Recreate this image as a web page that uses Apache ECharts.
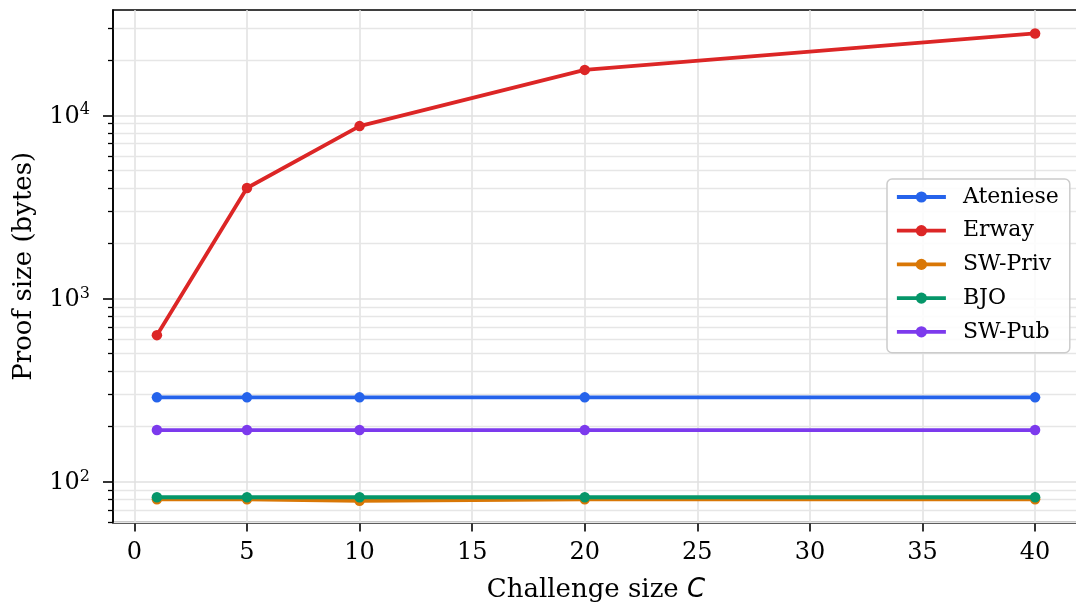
<!DOCTYPE html>
<html>
<head>
<meta charset="utf-8">
<script src="https://cdn.jsdelivr.net/npm/echarts@6/dist/echarts.min.js"></script>
<style>
html,body{margin:0;padding:0;background:#fff;}
#chart{width:1076px;height:607px;}
</style>
</head>
<body>
<div id="chart"></div>
<script>
// ---- data ----
const challengeSizes = [1, 5, 10, 20, 40];
const ateniese = [288, 288, 288, 288, 288];
const erway = [630, 4010, 8730, 17700, 28000];
const swPriv = [80, 80, 78.5, 80, 80];
const bjo = [82, 82, 82, 82, 82];
const swPub = [191, 191, 191, 191, 191];
const seriesNames = ['Ateniese', 'Erway', 'SW-Priv', 'BJO', 'SW-Pub'];
const seriesColors = ['#2563eb', '#dc2626', '#d97706', '#059669', '#7c3aed'];
const xTicks = [0, 5, 10, 15, 20, 25, 30, 35, 40];
const yMajorTicks = [100, 1000, 10000];
const yMinorTicks = [60, 70, 80, 90, 200, 300, 400, 500, 600, 700, 800, 900,
  2000, 3000, 4000, 5000, 6000, 7000, 8000, 9000, 20000, 30000];

const allValues = [ateniese, erway, swPriv, bjo, swPub];
const FONT = 'DejaVu Serif';

function pairs(vals) { return challengeSizes.map((x, i) => [x, vals[i]]); }

const series = allValues.map((vals, i) => ({
  name: seriesNames[i],
  type: 'line',
  data: pairs(vals),
  symbol: 'circle',
  symbolSize: 10.5,
  showSymbol: true,
  lineStyle: { width: 3.8, color: seriesColors[i] },
  itemStyle: { color: seriesColors[i], borderWidth: 0 },
  emphasis: { disabled: true },
  animation: false,
  z: 3 + i
}));

const yMin = 59.7, yMax = 37600;

const option = {
  animation: false,
  grid: {
    left: 113, top: 10, right: -3, bottom: 84.5,
    show: true, borderColor: '#000', borderWidth: 1.6, backgroundColor: 'transparent',
    containLabel: false,
    outerBoundsMode: 'none'
  },
  legend: {
    orient: 'vertical',
    left: 887, top: 179,
    data: seriesNames,
    itemWidth: 49, itemHeight: 14, itemGap: 11.7,
    padding: [7, 11, 10, 8],
    backgroundColor: 'rgba(255,255,255,0.85)',
    borderColor: '#cccccc', borderWidth: 1.5, borderRadius: 5,
    lineStyle: { width: 3.8 },
    textStyle: { fontFamily: FONT, fontSize: 22, color: '#000', lineHeight: 22, padding: [0, 0, 0, 12] },
    selectedMode: false
  },
  xAxis: {
    type: 'value',
    min: -0.95, max: 41.95,
    name: '{a|Challenge size }{i|C}',
    nameLocation: 'middle',
    nameGap: 55,
    nameTextStyle: {
      rich: {
        a: { fontFamily: FONT, fontSize: 26, color: '#000' },
        i: { fontFamily: 'DejaVu Sans', fontStyle: 'italic', fontSize: 26, color: '#000' }
      }
    },
    axisLine: { show: true, onZero: false, lineStyle: { color: '#000', width: 1.6 } },
    axisTick: { show: true, customValues: xTicks, length: 9, lineStyle: { color: '#000', width: 1.6 } },
    axisLabel: { customValues: xTicks, fontFamily: FONT, fontSize: 24, color: '#000', margin: 18 },
    splitLine: { show: true, lineStyle: { color: '#e0e0e0', width: 1.5 } }
  },
  yAxis: [
    {
      type: 'log',
      logBase: 10,
      min: yMin, max: yMax,
      name: 'Proof size (bytes)',
      nameLocation: 'middle',
      nameGap: 76,
      nameTextStyle: { fontFamily: FONT, fontSize: 26, color: '#000' },
      axisLine: { show: true, onZero: false, lineStyle: { color: '#000', width: 1.6 } },
      axisTick: { show: true, customValues: yMajorTicks, length: 10, lineStyle: { color: '#000', width: 1.6 } },
      axisLabel: {
        customValues: yMajorTicks,
        margin: 23,
        formatter: function (v) {
          const e = Math.round(Math.log10(v));
          return '{b|10}{s|' + e + '}';
        },
        rich: {
          b: { fontFamily: FONT, fontSize: 24, color: '#000', lineHeight: 26, verticalAlign: 'bottom', padding: [4, 0, 0, 0] },
          s: { fontFamily: FONT, fontSize: 16, color: '#000', lineHeight: 26, verticalAlign: 'top', padding: [0, 0, 6, 0] }
        }
      },
      splitLine: { show: true, lineStyle: { color: '#e0e0e0', width: 1.5 } },
      z: 2
    },
    {
      type: 'log',
      logBase: 10,
      min: yMin, max: yMax,
      position: 'left',
      axisLine: { show: false, onZero: false },
      axisTick: { show: true, customValues: yMinorTicks, length: 5, lineStyle: { color: '#000', width: 1.3 } },
      axisLabel: { show: false, customValues: yMinorTicks },
      splitLine: { show: true, lineStyle: { color: '#e6e6e6', width: 1.3 } },
      z: 1
    }
  ],
  series: series
};

const chart = echarts.init(document.getElementById('chart'), null, { renderer: 'canvas' });
chart.setOption(option);
</script>
</body>
</html>
